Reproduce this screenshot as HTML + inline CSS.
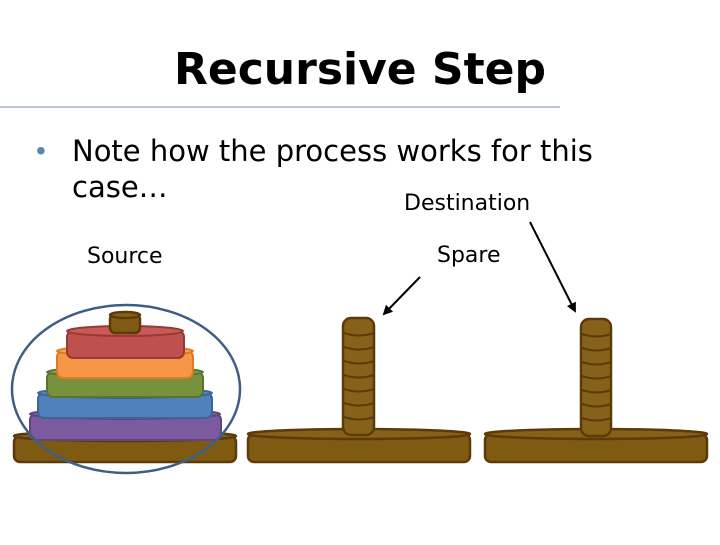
<!DOCTYPE html>
<html><head><style>
body{margin:0;width:720px;height:540px;background:#fff;overflow:hidden;font-family:"Liberation Sans",sans-serif}
</style></head><body>
<svg width="720" height="540" xmlns="http://www.w3.org/2000/svg">
<defs>
<marker id="ah" markerWidth="10" markerHeight="10" refX="8" refY="5" orient="auto" markerUnits="userSpaceOnUse"><path d="M0,0 L10,5 L0,10 z" fill="#000"/></marker>
</defs>
<text x="360" y="84" text-anchor="middle" font-size="44" font-weight="bold" fill="#000" font-family="DejaVu Sans, Liberation Sans, sans-serif">Recursive Step</text>
<line x1="0" y1="107" x2="560" y2="107" stroke="#9fb3c4" stroke-width="1.5"/>
<text x="36" y="160" font-size="28" fill="#5b86b0">•</text>
<text x="72" y="161" font-size="29" fill="#000" font-family="DejaVu Sans, Liberation Sans, sans-serif">Note how the process works for this</text>
<text x="72" y="197" font-size="29" fill="#000" font-family="DejaVu Sans, Liberation Sans, sans-serif">case…</text>
<text x="404" y="210" font-size="22" fill="#000" font-family="DejaVu Sans, Liberation Sans, sans-serif">Destination</text>
<text x="87" y="263" font-size="22" fill="#000" font-family="DejaVu Sans, Liberation Sans, sans-serif">Source</text>
<text x="437" y="262" font-size="22" fill="#000" font-family="DejaVu Sans, Liberation Sans, sans-serif">Spare</text>
<line x1="420" y1="277" x2="384" y2="314" stroke="#000" stroke-width="2" marker-end="url(#ah)"/>
<line x1="530" y1="222" x2="575" y2="311" stroke="#000" stroke-width="2" marker-end="url(#ah)"/>
<g stroke="#5e3a08" stroke-width="2.5">
<!-- bases -->
<rect x="14" y="436" width="222" height="26" rx="6" fill="#7f5a12"/>
<ellipse cx="125" cy="436" rx="111" ry="5" fill="#86611a"/>
<rect x="248" y="434" width="222" height="28" rx="6" fill="#7f5a12"/>
<ellipse cx="359" cy="434" rx="111" ry="5" fill="#86611a"/>
<rect x="485" y="434" width="222" height="28" rx="6" fill="#7f5a12"/>
<ellipse cx="596" cy="434" rx="111" ry="5" fill="#86611a"/>
<!-- poles -->
<rect x="343" y="318" width="31" height="117" rx="8" fill="#86611a"/>
<rect x="581" y="319" width="30" height="117" rx="8" fill="#86611a"/>
<g fill="none" stroke-width="2">
<path d="M344,333 q15,5 30,0 M344,347 q15,5 30,0 M344,361 q15,5 30,0 M344,375 q15,5 30,0 M344,389 q15,5 30,0 M344,403 q15,5 30,0 M344,417 q15,5 30,0"/>
<path d="M582,334 q15,5 29,0 M582,348 q15,5 29,0 M582,362 q15,5 29,0 M582,376 q15,5 29,0 M582,390 q15,5 29,0 M582,404 q15,5 29,0 M582,418 q15,5 29,0"/>
</g>
<!-- disks -->
<g stroke-width="2">
<rect x="30" y="414" width="191" height="26" rx="6" fill="#7b5aa0" stroke="#5f467f"/>
<ellipse cx="125" cy="414" rx="95" ry="5" fill="#8264a8" stroke="#5f467f"/>
<rect x="38" y="393" width="174" height="25" rx="6" fill="#4f81bd" stroke="#3a6596"/>
<ellipse cx="125" cy="393" rx="87" ry="5" fill="#5588c4" stroke="#3a6596"/>
<rect x="47" y="372" width="156" height="25" rx="6" fill="#76923c" stroke="#5a7330"/>
<ellipse cx="125" cy="372" rx="78" ry="5" fill="#7e9a44" stroke="#5a7330"/>
<rect x="57" y="351" width="136" height="27" rx="6" fill="#f79646" stroke="#e07a20"/>
<ellipse cx="125" cy="351" rx="68" ry="5" fill="#f9a25a" stroke="#e07a20"/>
<rect x="67" y="331" width="117" height="27" rx="6" fill="#c0504d" stroke="#953a38"/>
<ellipse cx="125" cy="331" rx="58" ry="5" fill="#c85a57" stroke="#953a38"/>
</g>
<rect x="110" y="314" width="30" height="19" rx="5" fill="#7f5a12"/>
<ellipse cx="125" cy="315" rx="15" ry="3" fill="#86611a"/>
</g>
<ellipse cx="126" cy="389" rx="114" ry="84" fill="none" stroke="#3f5e87" stroke-width="2.5"/>
</svg>
</body></html>
